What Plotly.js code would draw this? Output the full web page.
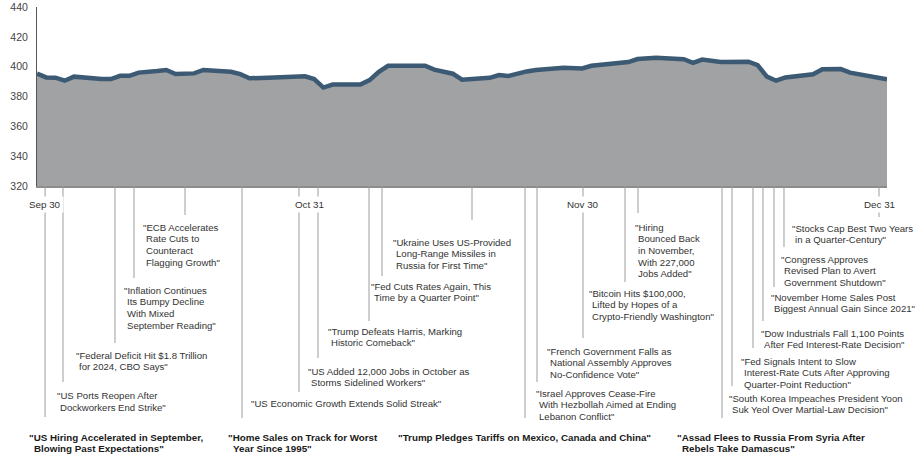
<!DOCTYPE html>
<html>
<head>
<meta charset="utf-8">
<script src="https://cdn.plot.ly/plotly-3.0.1.min.js"></script>
<style>
  html, body { margin: 0; padding: 0; background: #fff; }
  #chart { width: 920px; height: 455px; }
</style>
</head>
<body>
<div id="chart"></div>
<script>
// ---------- DATA ----------
const dates = [
  '2024-09-30','2024-10-01','2024-10-02','2024-10-03','2024-10-04','2024-10-05','2024-10-07','2024-10-08',
  '2024-10-09','2024-10-10','2024-10-11','2024-10-13','2024-10-14','2024-10-15','2024-10-16','2024-10-17',
  '2024-10-18','2024-10-20','2024-10-21','2024-10-22','2024-10-23','2024-10-25','2024-10-27','2024-10-29',
  '2024-10-30','2024-10-31','2024-11-01','2024-11-04','2024-11-05','2024-11-06','2024-11-07','2024-11-11',
  '2024-11-12','2024-11-13','2024-11-14','2024-11-15','2024-11-18','2024-11-19','2024-11-20','2024-11-22',
  '2024-11-23','2024-11-26','2024-11-28','2024-11-29','2024-12-02','2024-12-03','2024-12-04','2024-12-05',
  '2024-12-06','2024-12-09','2024-12-10','2024-12-11','2024-12-13','2024-12-16','2024-12-17','2024-12-18',
  '2024-12-19','2024-12-20','2024-12-23','2024-12-24','2024-12-26','2024-12-27','2024-12-31'
];
const values = [
  395.3,392.8,392.6,390.6,393.3,392.6,391.7,391.7,
  393.9,393.9,396.0,397.1,397.8,395.1,395.5,395.5,
  397.8,397.2,396.6,395.0,392.2,392.6,392.9,393.5,
  391.7,386.0,388.0,388.0,391.0,396.6,400.6,400.6,
  398.0,396.6,395.3,391.3,392.5,394.4,393.7,396.8,
  397.8,399.2,398.8,400.6,402.2,403.1,405.1,405.6,
  406.0,405.0,402.6,404.8,403.2,403.3,401.1,393.3,
  390.6,392.8,394.9,398.2,398.4,396.0,391.5
];

const yTicks = [320, 340, 360, 380, 400, 420, 440];

const tickDates = ['2024-09-30 21:00', '2024-10-29 10:34', '2024-11-28 02:20', '2024-12-30 03:13'];
const tickText  = ['Sep 30', 'Oct 31', 'Nov 30', 'Dec 31'];

// where each headline's leader line meets the axis
const eventDates = [
  '2024-09-30 21:00','2024-10-02 19:30','2024-10-08 10:36','2024-10-10 12:00','2024-10-16 00:27',
  '2024-10-22 04:31','2024-10-28 08:35','2024-10-30 09:56','2024-11-04 22:25','2024-11-06 08:11',
  '2024-11-16 01:58','2024-11-21 19:39','2024-11-23 02:50','2024-11-28 02:20','2024-12-02 15:26',
  '2024-12-04 01:12','2024-12-13 03:23','2024-12-14 05:21','2024-12-16 11:54','2024-12-17 13:52',
  '2024-12-18 18:27','2024-12-19 20:25','2024-12-30 03:13'
];
const eventTexts = [
  '"US Hiring Accelerated in September,\nBlowing Past Expectations"',
  '"US Ports Reopen After\nDockworkers End Strike"',
  '"Federal Deficit Hit $1.8 Trillion\nfor 2024, CBO Says"',
  '"Inflation Continues\nIts Bumpy Decline\nWith Mixed\nSeptember Reading"',
  '"ECB Accelerates\nRate Cuts to\nCounteract\nFlagging Growth"',
  '"Home Sales on Track for Worst\nYear Since 1995"',
  '"US Economic Growth Extends Solid Streak"',
  '"US Added 12,000 Jobs in October as\nStorms Sidelined Workers"',
  '"Trump Defeats Harris, Marking\nHistoric Comeback"',
  '"Fed Cuts Rates Again, This\nTime by a Quarter Point"',
  '"Ukraine Uses US-Provided\nLong-Range Missiles in\nRussia for First Time"',
  '"Trump Pledges Tariffs on Mexico, Canada and China"',
  '"Israel Approves Cease-Fire\nWith Hezbollah Aimed at Ending\nLebanon Conflict"',
  '"French Government Falls as\nNational Assembly Approves\nNo-Confidence Vote"',
  '"Bitcoin Hits $100,000,\nLifted by Hopes of a\nCrypto-Friendly Washington"',
  '"Hiring\nBounced Back\nin November,\nWith 227,000\nJobs Added"',
  '"Assad Flees to Russia From Syria After\nRebels Take Damascus"',
  '"South Korea Impeaches President Yoon\nSuk Yeol Over Martial-Law Decision"',
  '"Fed Signals Intent to Slow\nInterest-Rate Cuts After Approving\nQuarter-Point Reduction"',
  '"Dow Industrials Fall 1,100 Points\nAfter Fed Interest-Rate Decision"',
  '"November Home Sales Post\nBiggest Annual Gain Since 2021"',
  '"Congress Approves\nRevised Plan to Avert\nGovernment Shutdown"',
  '"Stocks Cap Best Two Years\nin a Quarter-Century"'
];

// ---------- LAYOUT OF LABELS (pixel placement in the 920x455 frame) ----------
// left: text left edge, top: centre of first line, end: bottom of leader line, bold
const labelPlace = [
  {left: 29,  top: 437, end: 417, bold: true},
  {left: 57,  top: 396, end: 382},
  {left: 76,  top: 355, end: 343},
  {left: 124, top: 290, end: 278},
  {left: 143, top: 227, end: 215},
  {left: 228, top: 437, end: 418, bold: true},
  {left: 251, top: 403, end: 392},
  {left: 308, top: 371, end: 358},
  {left: 328, top: 331, end: 321},
  {left: 371, top: 286, end: 276},
  {left: 393, top: 242, end: 220},
  {left: 398, top: 437, end: 418, bold: true},
  {left: 536, top: 393, end: 382},
  {left: 547, top: 351, end: 338},
  {left: 589, top: 293, end: 282},
  {left: 635, top: 227, end: 213},
  {left: 677, top: 437, end: 418, bold: true},
  {left: 729, top: 398, end: 386},
  {left: 741, top: 361, end: 348},
  {left: 761, top: 333, end: 321},
  {left: 771, top: 297, end: 287},
  {left: 781, top: 259, end: 247},
  {left: 792, top: 228, end: 217}
];

const PL = 37, PR = 33, PT = 7, PB = 269;
const W = 920, H = 455;
const PW = W - PL - PR, PH = H - PT - PB;
const xp = px => (px - PL) / PW;
const yp = py => (PT + PH - py) / PH;

const FONT = '"Liberation Sans", Arial, Helvetica, sans-serif';

const shapes = [];
const annotations = [];

eventDates.forEach((d, i) => {
  const p = labelPlace[i];
  shapes.push({
    type: 'line', xref: 'x', yref: 'paper',
    x0: d, x1: d, y0: 0, y1: yp(p.end),
    line: {color: '#9c9c9c', width: 1}, layer: 'above'
  });
  const lines = eventTexts[i].split('\n');
  const dy = p.bold ? 12 : 11.7;
  lines.forEach((t, j) => {
    annotations.push({
      xref: 'paper', yref: 'paper',
      x: xp(p.left), y: yp(p.top + j * dy),
      xanchor: 'left', yanchor: 'middle',
      xshift: j === 0 ? 0 : (p.bold ? 4.5 : 3.4),
      text: p.bold ? '<b>' + t + '</b>' : t,
      showarrow: false, borderpad: 0, borderwidth: 0,
      font: {family: FONT, size: p.bold ? 9.8 : 9.6, color: p.bold ? '#1a1a1a' : '#333333'}
    });
  });
});

tickDates.forEach((d, i) => {
  annotations.push({
    xref: 'x', yref: 'paper', x: d, y: yp(204),
    xanchor: 'center', yanchor: 'middle',
    text: tickText[i], showarrow: false,
    bgcolor: '#ffffff', borderpad: 2,
    font: {family: FONT, size: 9.8, color: '#333333'}
  });
});

const trace = {
  type: 'scatter', mode: 'lines',
  x: dates, y: values,
  fill: 'tozeroy', fillcolor: '#a0a2a3',
  line: {color: '#3c5a74', width: 4.5},
  hoverinfo: 'x+y'
};

const layout = {
  width: W, height: H,
  margin: {l: PL, r: PR, t: PT, b: PB, pad: 0},
  paper_bgcolor: '#ffffff', plot_bgcolor: '#ffffff',
  showlegend: false,
  font: {family: FONT},
  xaxis: {
    type: 'date', range: ['2024-09-30', '2024-12-31'],
    showticklabels: false, ticks: '', showgrid: false, zeroline: false,
    showline: true, linecolor: '#8c8c8c', linewidth: 1.5, fixedrange: true
  },
  yaxis: {
    range: [320, 440], tickvals: yTicks, ticktext: yTicks.map(String),
    showgrid: false, zeroline: false, ticks: '',
    showline: true, linecolor: '#555555', linewidth: 1,
    ticklabelstandoff: 6,
    tickfont: {family: FONT, size: 10.5, color: '#444444'}, fixedrange: true
  },
  shapes: shapes,
  annotations: annotations
};

Plotly.newPlot('chart', [trace], layout, {displayModeBar: false, staticPlot: true});
</script>
</body>
</html>
